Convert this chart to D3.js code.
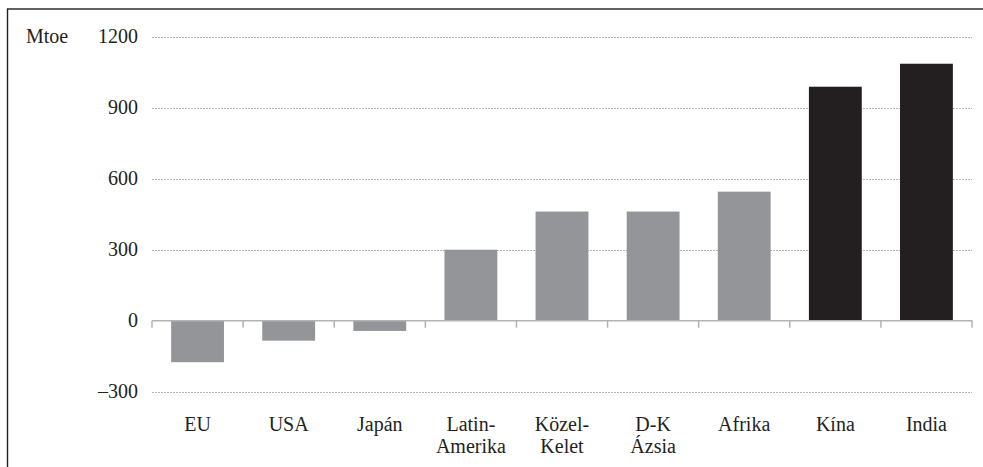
<!DOCTYPE html>
<html>
<head>
<meta charset="utf-8">
<script src="https://cdn.jsdelivr.net/npm/d3@7"></script>
</head>
<body style="margin:0">
<svg id="chart" width="983" height="467" font-family="Liberation Serif">
  <text x="-400" y="-400" font-size="20" font-family="Liberation Serif" aria-hidden="true">Mtoe 1200 Közel Ázsia Japán Kína</text>
</svg>
<script>
// Data
const categories = [["EU"], ["USA"], ["Japán"], ["Latin-", "Amerika"], ["Közel-", "Kelet"], ["D-K", "Ázsia"], ["Afrika"], ["Kína"], ["India"]];
const values = [-175, -84, -43, 300, 461, 461, 545, 988, 1085];
const highlighted = [false, false, false, false, false, false, false, true, true];
const yTicks = [-300, 0, 300, 600, 900, 1200];
const yTickLabels = ["\u2013300", "0", "300", "600", "900", "1200"];
const unitLabel = "Mtoe";

const svg = d3.select("#chart");
const W = 983, H = 467;

// frame
svg.append("rect")
  .attr("x", 7.5).attr("y", 9)
  .attr("width", W + 10).attr("height", H + 10)
  .attr("fill", "none").attr("stroke", "#231f20").attr("stroke-width", 1.4);

const names = categories.map(c => c.join(" "));
const x = d3.scaleBand().domain(names).range([152, 972]).paddingInner(0.42).paddingOuter(0.21);
const y = d3.scaleLinear().domain([-300, 1200]).range([391.8, 36.5]);
const step = x.step();

// gridlines
svg.append("g").selectAll("line")
  .data(yTicks.filter(t => t !== 0))
  .join("line")
  .attr("x1", 152).attr("x2", 972)
  .attr("y1", d => Math.round(y(d)) + 0.5).attr("y2", d => Math.round(y(d)) + 0.5)
  .attr("stroke", "#b5b5b5").attr("stroke-width", 1)
  .attr("stroke-dasharray", "2,1");

// y tick labels
svg.append("g").selectAll("text")
  .data(yTicks)
  .join("text")
  .attr("x", 138).attr("y", d => y(d) + 6)
  .attr("text-anchor", "end")
  .attr("font-size", 20)
  .attr("font-family", "Liberation Serif")
  .attr("fill", "#231f20")
  .text((d, i) => yTickLabels[i]);

svg.append("text")
  .attr("x", 26).attr("y", y(1200) + 6)
  .attr("font-size", 20)
  .attr("font-family", "Liberation Serif")
  .attr("fill", "#231f20")
  .text(unitLabel);

// bars
svg.append("g").selectAll("rect")
  .data(values)
  .join("rect")
  .attr("x", (d, i) => x(names[i]))
  .attr("width", x.bandwidth())
  .attr("y", d => y(Math.max(0, d)))
  .attr("height", d => Math.abs(y(d) - y(0)))
  .attr("fill", (d, i) => highlighted[i] ? "#231f20" : "#939598");

// zero axis with ticks at category boundaries
const y0 = y(0);
const axis = svg.append("g");
axis.append("line")
  .attr("x1", 152).attr("x2", 972.5)
  .attr("y1", y0).attr("y2", y0)
  .attr("stroke", "#b3b3b3").attr("stroke-width", 1.5);
const boundaries = d3.range(names.length + 1).map(i => i === names.length ? x(names[i - 1]) + x.bandwidth() + step * x.paddingInner() / 2 : x(names[i]) - step * x.paddingInner() / 2);
axis.selectAll("line.tick")
  .data(boundaries)
  .join("line")
  .attr("class", "tick")
  .attr("x1", d => d).attr("x2", d => d)
  .attr("y1", y0).attr("y2", y0 + 7)
  .attr("stroke", "#b3b3b3").attr("stroke-width", 1.5);

// category labels (one text per line)
const labelLines = [];
categories.forEach((c, i) => c.forEach((line, j) => labelLines.push({ i, j, line })));
svg.append("g").selectAll("text")
  .data(labelLines)
  .join("text")
  .attr("x", d => x(names[d.i]) + x.bandwidth() / 2)
  .attr("y", d => 431 + d.j * 22)
  .attr("text-anchor", "middle")
  .attr("font-size", 20)
  .attr("font-family", "Liberation Serif")
  .attr("fill", "#231f20")
  .text(d => d.line);
</script>
</body>
</html>
